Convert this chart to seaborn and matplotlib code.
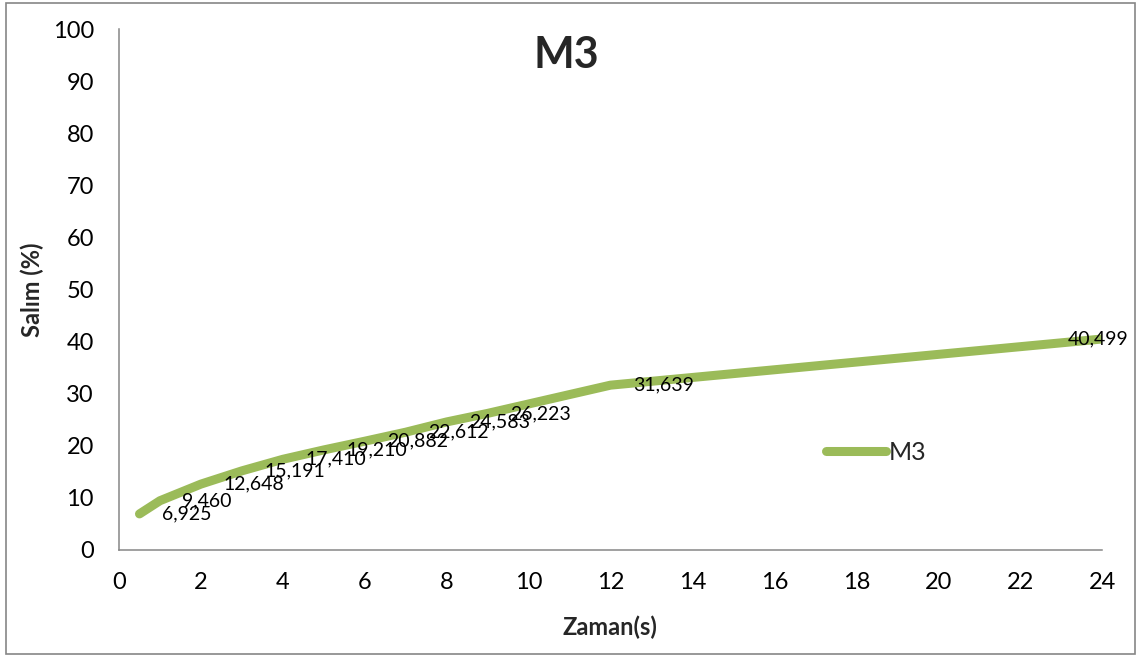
import matplotlib
matplotlib.use("Agg")
import matplotlib.pyplot as plt
import seaborn as sns
from matplotlib.patches import Rectangle

# Release profile of formulation M3
zaman = [0.5, 1, 2, 3, 4, 5, 6, 7, 8, 9, 12, 24]
salim = [6.925, 9.460, 12.648, 15.191, 17.410, 19.210, 20.882, 22.612,
         24.583, 26.223, 31.639, 40.499]
seri_adi = "M3"
x_ticks = list(range(0, 25, 2))
y_ticks = list(range(0, 101, 10))

sns.set_style("white")
plt.rcParams["font.family"] = ["Lato", "DejaVu Sans"]

W, H = 1138, 657
fig = plt.figure(figsize=(W / 100, H / 100), dpi=100)
ax = fig.add_axes([119 / W, 1 - 550 / H, (1102 - 119) / W, (550 - 29) / H])

green = "#9BBB59"
axis_grey = "#868686"

sns.lineplot(x=zaman, y=salim, ax=ax, color=green, linewidth=6.5,
             solid_capstyle="round", solid_joinstyle="round",
             label=seri_adi, legend=False)

ax.set_xlim(0, 24)
ax.set_ylim(0, 100)
ax.set_xticks(x_ticks)
ax.set_yticks(y_ticks)
ax.tick_params(axis="both", which="major", labelsize=17, length=6,
               width=1.1, color=axis_grey, direction="out", labelcolor="black")
ax.tick_params(axis="y", pad=12)
ax.tick_params(axis="x", pad=10)
for side in ("top", "right"):
    ax.spines[side].set_visible(False)
for side in ("left", "bottom"):
    ax.spines[side].set_color(axis_grey)
    ax.spines[side].set_linewidth(1.1)
ax.set_facecolor("none")

# value labels beside each point
for i, (xv, yv) in enumerate(zip(zaman, salim)):
    txt = f"{yv:.3f}".replace(".", ",")
    if i == len(zaman) - 1:
        ax.annotate(txt, (xv, yv), xytext=(-3, 0), textcoords="offset points",
                    ha="center", va="center", fontsize=14, color="black",
                    annotation_clip=False)
    else:
        ax.annotate(txt, (xv, yv), xytext=(16, 0), textcoords="offset points",
                    ha="left", va="center", fontsize=14, color="black")

ax.set_xlabel("")
ax.set_ylabel("")
fig.text(566 / W, 1 - 55 / H, "M3", ha="center", va="center",
         fontsize=31, fontweight="bold")
fig.text(610 / W, 1 - 627 / H, "Zaman(s)", ha="center", va="center",
         fontsize=17, fontweight="bold")
fig.text(32 / W, 1 - 290 / H, "Salım (%)", ha="center", va="center",
         rotation=90, fontsize=17, fontweight="bold")

leg = ax.legend(loc="center left", bbox_to_anchor=(826 / W, 1 - 452 / H),
                bbox_transform=fig.transFigure, frameon=False, fontsize=18,
                handlelength=2.4, handletextpad=0.12, borderpad=0,
                borderaxespad=0)

# outer chart border
fig.patches.append(Rectangle((6 / W, 3 / H), (1135 - 6) / W, (654 - 3) / H,
                             transform=fig.transFigure, fill=False,
                             edgecolor=axis_grey, linewidth=1.2))

fig.savefig("out.png", dpi=100)
